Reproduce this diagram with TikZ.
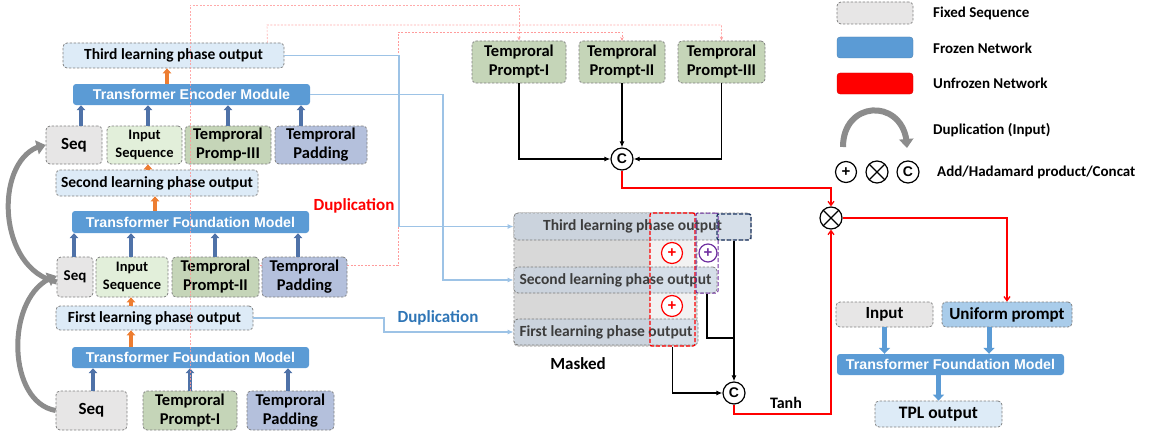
\documentclass[tikz,border=0pt]{standalone}
\usepackage{fontspec}
\setmainfont{Carlito}
\newfontfamily\arialf{Liberation Sans}
\usetikzlibrary{arrows.meta,bending}
\definecolor{fixg}{HTML}{E7E6E6}
\definecolor{phb}{HTML}{DDEBF7}
\definecolor{frz}{HTML}{5B9BD5}
\definecolor{isg}{HTML}{E2EFDA}
\definecolor{tpg}{HTML}{C5D5B8}
\definecolor{padc}{HTML}{B4C0DC}
\definecolor{unif}{HTML}{A9CCEA}
\definecolor{lbl}{HTML}{9DC3E6}
\definecolor{darr}{HTML}{4F72A8}
\definecolor{oarr}{HTML}{ED7D31}
\definecolor{pinkd}{HTML}{FF9B9B}
\definecolor{dupb}{HTML}{2E75B6}
\definecolor{mrow}{HTML}{D6DFE9}
\definecolor{mbgc}{HTML}{E4E4E4}
\definecolor{navyd}{HTML}{1F3864}
\definecolor{purp}{HTML}{7030A0}
\definecolor{bord}{HTML}{7F7F7F}
\definecolor{dupg}{HTML}{8C8C8C}
\definecolor{mtxt}{HTML}{404040}
\newcommand\fs[2]{\fontsize{#1}{#2}\selectfont}
\newcommand\bx[7]{%
  \pgfmathsetmacro\bxw{#4-#2}\pgfmathsetmacro\bxh{#5-#3}%
  \pgfmathsetmacro\bxx{(#2+#4)/2}\pgfmathsetmacro\bxy{(#3+#5)/2}%
  \node[#6, minimum width=\bxw pt, minimum height=\bxh pt] (#1) at (\bxx,\bxy) {#7};}
\tikzset{
  dbox/.style={draw=bord, dash pattern=on 2.5pt off 1.5pt, line width=0.75pt, rounded corners=4pt, inner sep=0pt, align=center, font=\bfseries, text=black},
  fixbox/.style={dbox, fill=fixg},
  phbox/.style={dbox, fill=phb},
  isbox/.style={dbox, fill=isg, font=\bfseries\fs{14.5}{18}},
  tpbox/.style={dbox, fill=tpg, font=\bfseries\fs{16.5}{19}},
  padbox/.style={dbox, fill=padc, font=\bfseries\fs{16.5}{19}},
  frzbox/.style={fill=frz, rounded corners=3pt, inner sep=0pt, text=white, font=\arialf\bfseries\fs{14.2}{16}},
  uarr/.style={draw=darr, line width=3.5pt, -{Triangle[width=8.5pt,length=5pt]}},
  oarrow/.style={draw=oarr, line width=3.5pt, -{Triangle[width=8.5pt,length=5pt]}},
  fat/.style={draw=frz, line width=5pt, -{Triangle[width=11pt,length=6pt]}},
  duparr/.style={draw=dupg, line width=5pt, -{Triangle[width=14pt,length=9pt]}},
  pinkl/.style={draw=pinkd, line width=0.6pt, dash pattern=on 2pt off 1.5pt, -{Stealth[length=4pt,width=3.5pt]}},
  lbll/.style={draw=lbl, line width=1.3pt, -{Latex[length=6pt,width=5pt]}},
  blk/.style={draw=black, line width=1.3pt, -{Latex[length=6pt,width=5pt]}},
  redl/.style={draw=red, line width=1.3pt, -{Straight Barb[length=4pt,width=6pt]}},
  concat/.style={circle, draw, line width=1.2pt, minimum size=22pt, inner sep=0pt, fill=white, font=\arialf\bfseries\fs{14}{14}},
  plusc/.style={circle, draw, line width=1.2pt, minimum size=21pt, inner sep=0pt, fill=white, font=\arialf\bfseries\fs{15}{15}},
  crossc/.style={circle, draw, line width=1.2pt, minimum size=22pt, inner sep=0pt, fill=white,
    path picture={\draw[line width=1.2pt] (path picture bounding box.north west) -- (path picture bounding box.south east)
      (path picture bounding box.north east) -- (path picture bounding box.south west);}},
  lgtxt/.style={anchor=west, inner sep=0pt, font=\bfseries\fs{15}{15}},
  lab/.style={inner sep=0pt, font=\bfseries\fs{17}{17}}
}
\begin{document}
\begin{tikzpicture}[x=1pt,y=-1pt]
\useasboundingbox (0,0) rectangle (1151,436);

% pink line behind
\draw[pinkl] (172,265) -- (398,265) -- (398,32) -- (622,32) -- (622,41);

% ---------- left column ----------
\bx{third}{63}{43}{284}{68}{phbox}{\fs{15.5}{17}Third learning phase output}
\bx{tem}{73}{84}{310}{105}{frzbox}{Transformer Encoder Module}
\bx{seqa}{46}{126}{102}{164}{fixbox}{\fs{17}{19}Seq}
\bx{isa}{107}{126}{182}{164}{isbox}{Input\\Sequence}
\bx{tpc}{185}{126}{271}{164}{tpbox}{Temproral\\Promp-III}
\bx{pada}{275}{126}{367}{164}{padbox}{Temproral\\Padding}
\bx{second}{56}{170}{258}{196}{phbox}{\fs{15.5}{17}Second learning phase output}
\bx{tfma}{72}{211}{309}{233}{frzbox}{Transformer Foundation Model}
\bx{seqb}{57}{257}{93}{297}{fixbox}{\fs{15}{17}Seq}
\bx{isb}{96}{257}{168}{297}{isbox}{Input\\Sequence}
\bx{tpb}{172}{257}{259}{297}{tpbox}{Temproral\\Prompt-II}
\bx{padb}{262}{257}{347}{297}{padbox}{Temproral\\Padding}
\bx{first}{56}{306}{253}{330}{phbox}{\fs{15.5}{17}First learning phase output}
\bx{tfmb}{72}{347}{309}{368}{frzbox}{Transformer Foundation Model}
\bx{seqc}{56}{391}{127}{430}{fixbox}{\fs{17}{19}Seq}
\bx{tpa}{143}{391}{237}{430}{tpbox}{Temproral\\Prompt-I}
\bx{padc}{247}{391}{334}{430}{padbox}{Temproral\\Padding}

% blue up arrows
\draw[uarr] (seqa.north -| 81,0) -- (tem.south -| 81,0);
\draw[uarr] (isa.north -| 148,0) -- (tem.south -| 148,0);
\draw[uarr] (tpc.north -| 228,0) -- (tem.south -| 228,0);
\draw[uarr] (pada.north -| 301,0) -- (tem.south -| 301,0);
\draw[uarr] (seqb.north -| 74,0) -- (tfma.south -| 74,0);
\draw[uarr] (isb.north -| 131,0) -- (tfma.south -| 131,0);
\draw[uarr] (tpb.north -| 215,0) -- (tfma.south -| 215,0);
\draw[uarr] (padb.north -| 298,0) -- (tfma.south -| 298,0);
\draw[uarr] (seqc.north -| 93,0) -- (tfmb.south -| 93,0);
\draw[uarr] (tpa.north -| 190,0) -- (tfmb.south -| 190,0);
\draw[uarr] (padc.north -| 288,0) -- (tfmb.south -| 288,0);

% orange arrows
\draw[oarrow] (tem.north -| 167,0) -- (third.south -| 167,0);
\draw[oarrow] (second.north -| 148,0) -- (isa.south -| 148,0);
\draw[oarrow] (tfma.north -| 155,0) -- (second.south -| 155,0);
\draw[oarrow] (first.north -| 131,0) -- (isb.south -| 131,0);
\draw[oarrow] (tfmb.north -| 131,0) -- (first.south -| 131,0);

% duplication curved arrows
\draw[duparr] ([yshift=-5pt]seqb.west) .. controls (-6,268) and (-6,152) .. (seqa.west);
\draw[duparr] (seqc.west) .. controls (5,402) and (5,290) .. ([yshift=1pt]seqb.west);

\node[lab, text=red] (dupr) at (354,206) {Duplication};
\node[lab, text=dupb] (dupbl) at (438,318) {Duplication};

% ---------- right prompts ----------
\bx{rpa}{472}{41}{566}{83}{tpbox}{Temproral\\Prompt-I}
\bx{rpb}{579}{41}{665}{83}{tpbox}{Temproral\\Prompt-II}
\bx{rpc}{678}{41}{765}{83}{tpbox}{Temproral\\Prompt-III}

\node[concat] (ca) at (622,159) {C};
\draw[blk] (rpa.south) |- (ca.west);
\draw[blk] (rpb.south) -- (ca.north);
\draw[blk] (rpc.south) |- (ca.east);

% ---------- masked block ----------
\bx{mbg}{514}{213}{697}{346}{dbox, fill=mbgc}{}
\fill[white!95!black] (650,214) rectangle (695,345);
\bx{mt}{514}{213}{751}{240}{dbox, fill=mrow, text=mtxt}{\fs{15.5}{17}Third learning phase output}
\bx{ms}{514}{267}{717}{293}{dbox, fill=mrow, text=mtxt}{\fs{15.5}{17}Second learning phase output}
\bx{mf}{514}{319}{698}{345}{dbox, fill=mrow, text=mtxt}{\fs{15.5}{17}First learning phase output}
\fill[black, opacity=0.05] (515,214) rectangle (650,345);
\bx{rbox}{650}{213}{695}{346}{draw=red, line width=1.2pt, dash pattern=on 4pt off 2pt, rounded corners=2pt}{}
\bx{pbox}{696}{213}{718}{293}{draw=purp, line width=1pt, dash pattern=on 4pt off 2pt, rounded corners=2pt}{}
\bx{nbox}{717}{214}{751}{240}{draw=navyd, line width=1.3pt, dash pattern=on 4pt off 2pt, rounded corners=2pt}{}
\node[plusc, draw=red, text=red] (pa) at (672,253) {+};
\node[plusc, draw=red, text=red] (pb) at (672,306) {+};
\node[plusc, draw=purp, text=purp, minimum size=18pt] (pc) at (708,253) {+};
\node[lab] (masked) at (578,364) {Masked};

\node[concat] (cb) at (734,393) {C};
\coordinate (jn) at (734,338);
\draw[blk] (rbox.south) |- (cb.west);
\draw[line width=1.3pt] (pbox.south) |- (jn);
\draw[blk] (nbox.south) -- (cb.north);
\node[lab, font=\bfseries\fs{16}{16}] (tanh) at (786,403) {Tanh};

% light blue connectors
\draw[lbll] (third.east) -- (399,55.5) -- (399,226.5) -- (mt.west);
\draw[lbll] (tem.east) -- (443,94.5) -- (443,280) -- (ms.west);
\draw[lbll] (first.east) -- (384,318) -- (384,332) -- (mf.west);

% ---------- right side ----------
\node[crossc] (xa) at (831,218) {};
\bx{inp}{836}{302}{933}{327}{fixbox}{\fs{17}{17}Input}
\bx{up}{942}{302}{1072}{327}{dbox, fill=unif}{\fs{17}{17}Uniform prompt}
\bx{tfmc}{837}{354}{1064}{375}{frzbox}{Transformer Foundation Model}
\bx{tpl}{875}{401}{1002}{427}{phbox}{\fs{17.5}{17}TPL output}
\draw[fat] (inp.south) -- (inp.south |- tfmc.north);
\draw[fat] ([xshift=-18pt]up.south) -- ([xshift=-18pt]up.south |- tfmc.north);
\draw[fat] (tfmc.south -| tpl.north) -- (tpl.north);

\draw[redl] (ca.south) -- (622,188) -| (xa.north);
\draw[redl] (xa.east) -| (up.north);
\draw[redl] (cb.south) -- (734,414) -| (xa.south);

% pink dashed lines on top
\draw[pinkl, opacity=0.85] (tpa.north) -- (190,5) -| (rpa.north);
\draw[pinkl, opacity=0.85] ([xshift=-17pt]third.north east) -- (267,25) -| (rpc.north);

% ---------- legend ----------
\bx{lg1}{837}{2}{913}{24}{fixbox}{}
\node[lgtxt] (lt1) at (933,13) {Fixed Sequence};
\bx{lg2}{837}{37}{913}{58}{fill=frz, draw=frz!80!black, line width=0.3pt, rounded corners=3pt}{}
\node[lgtxt] (lt2) at (933,48) {Frozen Network};
\bx{lg3}{837}{73}{913}{94}{fill=red, draw=red!80!black, line width=0.3pt, rounded corners=3pt}{}
\node[lgtxt] (lt3) at (933,83) {Unfrozen Network};
\coordinate (la) at (843,147);
\coordinate (lb) at (907,148);
\draw[duparr, line width=6pt] (la) .. controls (843,98) and (907,98) .. (lb);
\node[lgtxt] (lt4) at (933,130) {Duplication (Input)};
\node[plusc] (lp) at (846,172) {+};
\node[crossc] (lx) at (877,172) {};
\node[concat] (lc) at (908,172) {C};
\node[lgtxt] (lt5) at (937,172) {Add/Hadamard product/Concat};
\end{tikzpicture}
\end{document}
